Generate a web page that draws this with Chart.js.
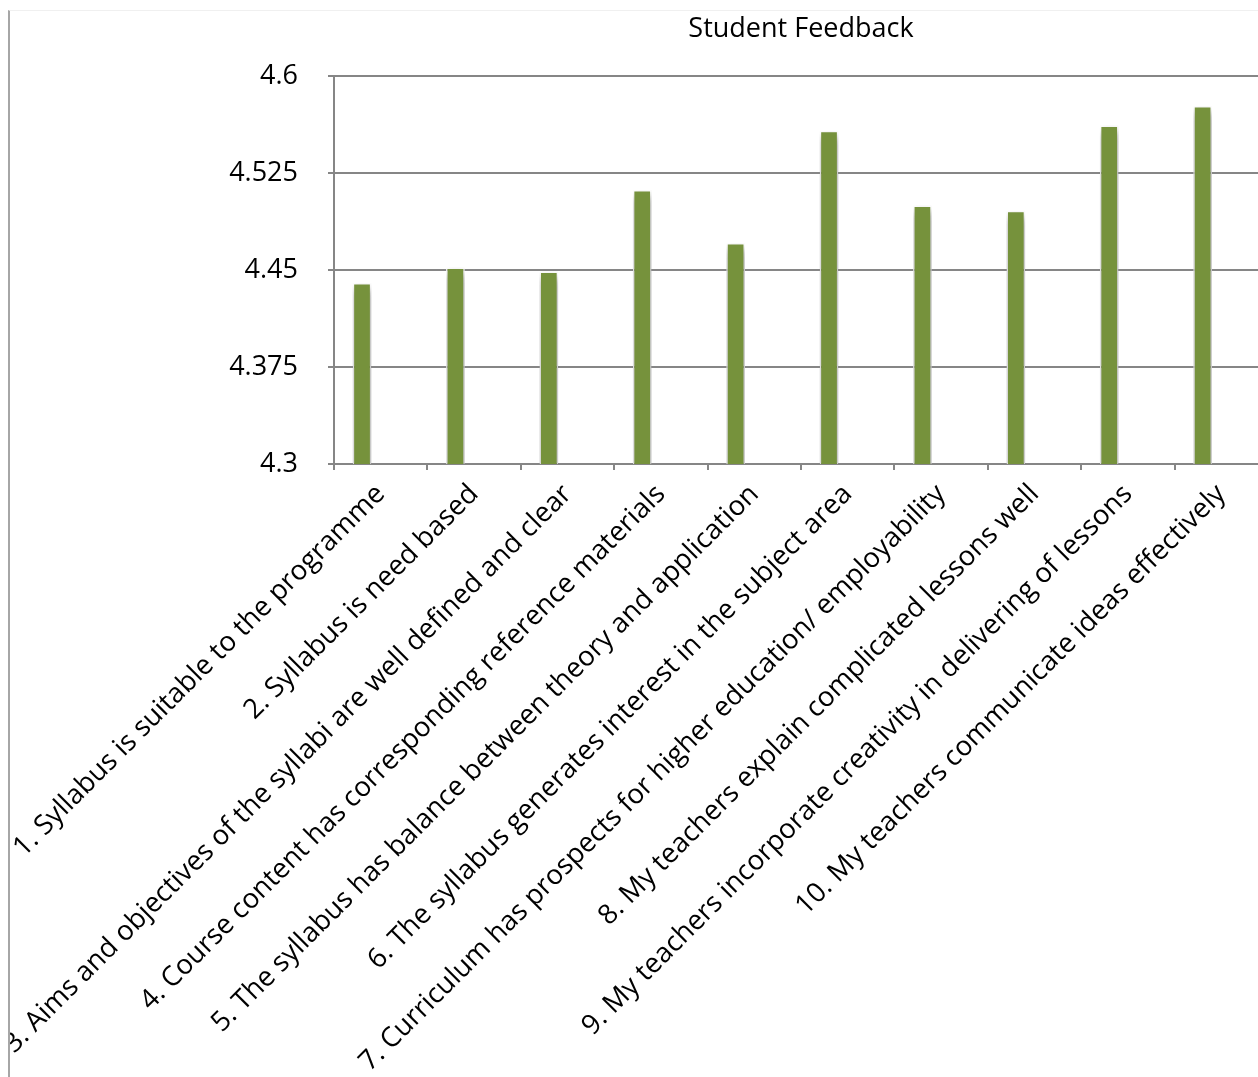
<!DOCTYPE html>
<html>
<head>
<meta charset="utf-8">
<script src="https://cdn.jsdelivr.net/npm/chart.js@4.4.1/dist/chart.umd.min.js"></script>
<style>
  html, body { margin: 0; padding: 0; background: #fff; overflow: hidden; }
  #frame {
    position: absolute; left: 8px; top: 10px;
    border-left: 2px solid #a6a6a6; border-top: 1px solid #f0f0f0;
  }
  canvas { display: block; }
</style>
</head>
<body>
<div id="frame"><canvas id="feedbackChart" width="1270" height="1067"></canvas></div>
<script>
// Categories (questions on the feedback form)
const questions = [
    '1. Syllabus is suitable to the programme',
    '2. Syllabus is need based',
    '3. Aims and objectives of the syllabi are well defined and clear',
    '4. Course content has corresponding reference materials',
    '5. The syllabus has balance between theory and application',
    '6. The syllabus generates interest in the subject area',
    '7. Curriculum has prospects for higher education/ employability',
    '8. My teachers explain complicated lessons well',
    '9. My teachers incorporate creativity in delivering of lessons',
    '10. My teachers communicate ideas effectively'
];

// Average rating per question
const avgScores = [4.440, 4.452, 4.449, 4.512, 4.471, 4.558, 4.500, 4.496, 4.562, 4.577];

// the original chart reserves room for two more series that show nothing
const series2 = [];
const series3 = [];

const yTickLabels = ['4.3', '4.375', '4.45', '4.525', '4.6'];

const FONT = '"Open Sans", Lato, sans-serif';

// soft drop shadow under the bars, like the office chart style
const barShadow = {
    id: 'barShadow',
    beforeDatasetsDraw(chart) {
        const ctx = chart.ctx;
        ctx.save();
        ctx.shadowColor = 'rgba(0, 0, 0, 0.4)';
        ctx.shadowBlur = 8;
        ctx.shadowOffsetX = 1;
        ctx.shadowOffsetY = 5;
    },
    afterDatasetsDraw(chart) {
        chart.ctx.restore();
    }
};

new Chart(document.getElementById('feedbackChart'), {
    type: 'bar',
    data: {
        labels: questions,
        datasets: [
            {
                label: 'Series1',
                data: avgScores,
                backgroundColor: '#76923c',
                borderColor: '#ffffff',
                borderWidth: 1.5
            },
            { label: 'Series2', data: series2, backgroundColor: '#4f81bd' },
            { label: 'Series3', data: series3, backgroundColor: '#c0504d' }
        ]
    },
    options: {
        responsive: false,
        animation: false,
        categoryPercentage: 0.6,
        barPercentage: 1.0,
        layout: { padding: { left: 0, right: 12, top: 0, bottom: 0 } },
        plugins: {
            legend: { display: false },
            tooltip: { enabled: false },
            title: {
                display: true,
                text: 'Student Feedback',
                fullSize: false,
                color: '#000',
                font: { family: FONT, size: 27, weight: 'normal' },
                padding: { top: 2, bottom: 31 }
            }
        },
        scales: {
            x: {
                offset: true,
                grid: {
                    offset: true,
                    drawOnChartArea: false,
                    drawTicks: true,
                    tickLength: 6,
                    color: '#868686',
                    lineWidth: 2
                },
                border: { color: '#868686', width: 2 },
                ticks: {
                    autoSkip: false,
                    minRotation: 45,
                    maxRotation: 45,
                    padding: 8,
                    color: '#000',
                    font: { family: FONT, size: 27.5 }
                },
                afterFit(scale) {
                    scale.height = 614;
                    // labels may run off the left edge, as in the original
                    scale.paddingLeft = 0;
                    scale.paddingRight = 0;
                }
            },
            y: {
                min: 4.3,
                max: 4.6,
                ticks: {
                    stepSize: 0.075,
                    padding: 30,
                    color: '#000',
                    font: { family: FONT, size: 27 },
                    callback: (value, index) => yTickLabels[index]
                },
                grid: {
                    color: '#868686',
                    lineWidth: 2,
                    tickLength: 6
                },
                border: { color: '#868686', width: 2 },
                afterFit(scale) { scale.width = 324; }
            }
        }
    },
    plugins: [barShadow]
});
</script>
</body>
</html>
